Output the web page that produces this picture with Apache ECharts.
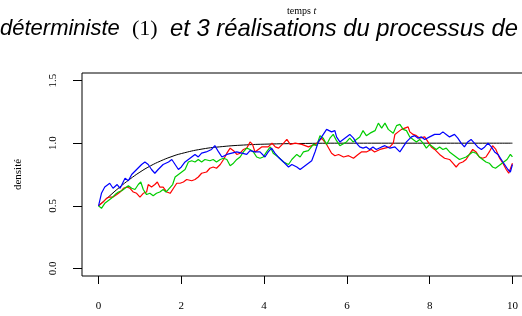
<!DOCTYPE html>
<html><head><meta charset="utf-8">
<script src="https://cdn.jsdelivr.net/npm/echarts@6/dist/echarts.min.js"></script>
<style>html,body{margin:0;padding:0;background:#fff}#c{width:522px;height:316px}</style>
</head><body><div id="c"></div>
<script>
var xTicks = [0, 2, 4, 6, 8, 10];
var yTicks = [0, 0.5, 1.0, 1.5];
var detT = [0,0.25,0.5,0.75,1,1.25,1.5,1.75,2,2.5,3,3.5,4,5,6,7,8,9,10];
var detV = [0.5,0.574,0.646,0.711,0.769,0.818,0.858,0.891,0.917,0.953,0.973,0.985,0.992,0.998,1,1,1,1,1];
var redT = [0,0.11,0.19,0.27,0.35,0.44,0.52,0.60,0.68,0.76,0.84,0.92,1.00,1.08,1.16,1.20,1.28,1.36,1.42,1.48,1.56,1.65,1.73,1.81,1.89,1.97,2.05,2.13,2.25,2.33,2.41,2.49,2.61,2.69,2.77,2.85,2.94,3.02,3.10,3.18,3.26,3.34,3.42,3.50,3.58,3.66,3.72,3.78,3.86,3.94,4.02,4.10,4.19,4.27,4.35,4.47,4.55,4.63,4.75,4.91,5.07,5.23,5.31,5.39,5.51,5.63,5.71,5.80,5.92,6.04,6.16,6.27,6.35,6.47,6.59,6.67,6.80,6.92,7.04,7.12,7.16,7.24,7.32,7.40,7.48,7.52,7.60,7.68,7.76,7.88,7.96,8.04,8.12,8.24,8.36,8.48,8.56,8.64,8.72,8.80,8.88,8.96,9.04,9.12,9.20,9.28,9.36,9.44,9.52,9.60,9.69,9.77,9.85,9.91,10];
var redV = [0.50,0.53,0.56,0.57,0.57,0.59,0.61,0.64,0.65,0.64,0.61,0.60,0.57,0.60,0.61,0.67,0.65,0.67,0.69,0.65,0.65,0.61,0.60,0.64,0.68,0.68,0.69,0.71,0.70,0.71,0.73,0.76,0.77,0.80,0.81,0.80,0.83,0.87,0.92,0.96,0.94,0.91,0.92,0.95,0.96,1.01,0.99,0.93,0.95,0.97,0.97,0.97,1.00,0.97,0.96,1.00,1.03,0.99,1.00,0.99,0.97,0.99,1.01,1.04,0.99,0.92,0.90,0.91,0.89,0.90,0.88,0.91,0.93,0.93,0.95,0.93,0.95,0.96,0.97,1.00,1.07,1.09,1.11,1.12,1.13,1.09,1.07,1.06,1.04,1.05,1.01,0.97,0.95,0.91,0.88,0.87,0.84,0.81,0.84,0.85,0.87,0.91,0.95,0.93,0.89,0.88,0.89,0.93,0.98,0.95,0.88,0.84,0.79,0.76,0.84];
var greenT = [0,0.07,0.15,0.23,0.31,0.40,0.48,0.56,0.64,0.72,0.80,0.88,0.96,1.02,1.08,1.16,1.24,1.32,1.40,1.48,1.56,1.63,1.71,1.79,1.85,1.93,2.01,2.09,2.17,2.25,2.33,2.41,2.49,2.57,2.69,2.77,2.85,2.94,3.02,3.10,3.18,3.26,3.34,3.42,3.50,3.58,3.66,3.74,3.82,3.90,3.98,4.06,4.15,4.22,4.34,4.47,4.59,4.67,4.79,4.87,4.95,5.07,5.19,5.27,5.35,5.43,5.51,5.59,5.67,5.75,5.83,5.99,6.07,6.15,6.23,6.31,6.39,6.47,6.56,6.68,6.76,6.84,6.92,7.00,7.12,7.20,7.28,7.36,7.44,7.52,7.60,7.68,7.76,7.84,7.92,8.00,8.08,8.16,8.24,8.32,8.40,8.48,8.56,8.64,8.72,8.80,8.88,8.96,9.04,9.12,9.20,9.28,9.36,9.44,9.52,9.59,9.67,9.75,9.87,9.95,10];
var greenV = [0.50,0.48,0.52,0.54,0.56,0.59,0.61,0.62,0.64,0.66,0.64,0.63,0.67,0.69,0.63,0.59,0.60,0.58,0.60,0.61,0.63,0.61,0.64,0.67,0.73,0.75,0.77,0.79,0.85,0.86,0.85,0.87,0.85,0.87,0.86,0.87,0.85,0.87,0.88,0.87,0.82,0.84,0.87,0.89,0.93,0.96,0.95,0.93,0.89,0.88,0.89,0.93,0.97,0.92,0.89,0.85,0.83,0.87,0.91,0.89,0.93,0.94,0.99,0.98,1.06,1.04,0.99,1.04,1.07,1.02,0.98,1.01,1.04,1.01,1.03,1.05,1.10,1.06,1.08,1.10,1.16,1.12,1.16,1.11,1.08,1.14,1.15,1.11,1.10,1.05,1.03,1.01,1.03,1.00,0.96,0.99,0.97,0.95,0.97,0.95,0.96,0.93,0.91,0.89,0.87,0.88,0.89,0.91,0.93,0.92,0.89,0.87,0.85,0.84,0.81,0.80,0.82,0.84,0.87,0.91,0.89];
var blueT = [0,0.07,0.15,0.27,0.35,0.45,0.52,0.64,0.72,0.80,0.92,1.04,1.12,1.20,1.28,1.36,1.44,1.56,1.69,1.77,1.85,1.93,2.00,2.09,2.25,2.33,2.41,2.49,2.60,2.73,2.81,2.90,2.98,3.10,3.22,3.34,3.46,3.58,3.66,3.78,3.90,4.02,4.10,4.18,4.26,4.34,4.47,4.59,4.67,4.79,4.87,4.95,5.03,5.15,5.23,5.31,5.43,5.51,5.63,5.71,5.75,5.83,5.95,6.07,6.16,6.23,6.31,6.39,6.47,6.55,6.63,6.71,6.84,6.92,7.04,7.16,7.28,7.36,7.44,7.56,7.64,7.72,7.80,7.88,8.00,8.12,8.24,8.32,8.40,8.48,8.60,8.68,8.76,8.84,8.92,9.00,9.08,9.16,9.25,9.33,9.41,9.49,9.57,9.65,9.73,9.81,9.89,9.95,10];
var blueV = [0.50,0.60,0.65,0.68,0.64,0.67,0.64,0.72,0.70,0.75,0.79,0.83,0.85,0.83,0.79,0.76,0.79,0.83,0.85,0.87,0.83,0.79,0.81,0.85,0.89,0.91,0.89,0.92,0.93,0.95,0.98,0.93,0.89,0.91,0.92,0.93,0.92,0.91,0.94,0.93,0.93,0.89,0.93,0.96,0.92,0.89,0.85,0.81,0.83,0.81,0.79,0.81,0.83,0.86,0.93,1.01,1.07,1.11,1.09,1.10,1.05,1.01,1.04,1.07,1.04,1.00,0.97,0.96,0.97,0.95,0.97,0.95,0.97,0.98,0.96,0.97,0.93,0.97,1.01,1.05,1.06,1.04,1.05,1.03,1.05,1.07,1.07,1.09,1.07,1.05,1.07,1.04,1.00,0.97,1.01,1.03,1.00,0.97,0.95,0.97,1.00,0.97,0.93,0.91,0.87,0.83,0.79,0.77,0.83];

function pairs(t, v) { return t.map(function (x, i) { return [x, v[i]]; }); }

var serif = '"Liberation Serif", "DejaVu Serif", serif';
var sans = '"Liberation Sans", Arial, sans-serif';

var chart = echarts.init(document.getElementById('c'), null, {renderer: 'canvas'});
chart.setOption({
  animation: false,
  backgroundColor: '#fff',
  grid: {left: 82, top: 73, width: 447, height: 203, show: true, borderColor: '#000', borderWidth: 1, backgroundColor: 'transparent', outerBoundsMode: 'none', containLabel: false},
  xAxis: {
    type: 'value', min: -0.4, max: 10.4,
    axisLine: {show: false, onZero: false},
    splitLine: {show: false},
    axisTick: {show: true, length: 8, lineStyle: {color: '#000', width: 1}, customValues: xTicks},
    axisLabel: {customValues: xTicks, margin: 25, color: '#000', fontFamily: serif, fontSize: 11, formatter: function (v) { return String(v); }}
  },
  yAxis: {
    type: 'value', min: -0.06, max: 1.56,
    name: 'densité', nameLocation: 'middle', nameRotate: 90, nameGap: 58,
    nameTextStyle: {color: '#000', fontFamily: serif, fontSize: 11},
    axisLine: {show: false, onZero: false},
    splitLine: {show: false},
    axisTick: {show: true, length: 9, lineStyle: {color: '#000', width: 1}, customValues: yTicks},
    axisLabel: {customValues: yTicks, rotate: 90, margin: 23, color: '#000', fontFamily: serif, fontSize: 11, formatter: function (v) { return v.toFixed(1); }}
  },
  graphic: [
    {type: 'text', left: 287, top: 6, style: {text: '{a|temps }{b|t}', rich: {a: {fontFamily: serif, fontSize: 10, fill: '#000'}, b: {fontFamily: serif, fontSize: 10, fontStyle: 'italic', fill: '#000'}}}},
    {type: 'text', left: 0, top: 18, style: {text: 'déterministe', fontFamily: sans, fontSize: 22, fontStyle: 'italic', fill: '#000'}},
    {type: 'text', left: 132, top: 18, style: {text: '(1)', fontFamily: serif, fontSize: 22, fill: '#000'}},
    {type: 'text', left: 170, top: 17, style: {text: 'et 3 réalisations du processus de', fontFamily: sans, fontSize: 23.8, fontStyle: 'italic', fill: '#000'}}
  ],
  series: [
    {type: 'line', data: pairs(detT, detV), smooth: true, showSymbol: false, lineStyle: {color: '#000', width: 1}, z: 2},
    {type: 'line', data: pairs(redT, redV), showSymbol: false, lineStyle: {color: '#ff0000', width: 1.2}, z: 3},
    {type: 'line', data: pairs(greenT, greenV), showSymbol: false, lineStyle: {color: '#00cd00', width: 1.2}, z: 4},
    {type: 'line', data: pairs(blueT, blueV), showSymbol: false, lineStyle: {color: '#0000ff', width: 1.2}, z: 5}
  ]
});
</script></body></html>
